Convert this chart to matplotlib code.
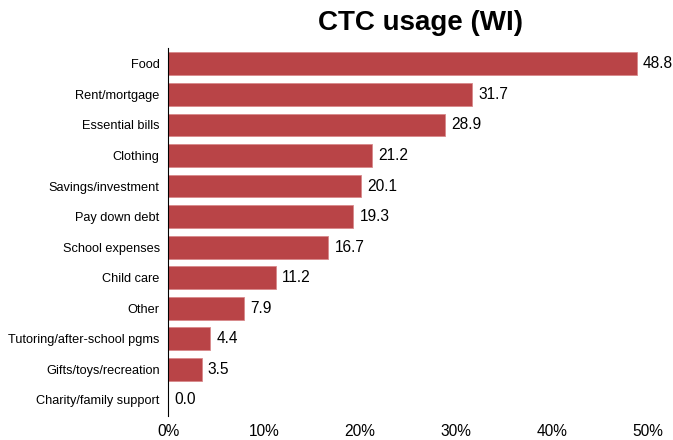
import matplotlib.pyplot as plt

categories = ["Food", "Rent/mortgage", "Essential bills", "Clothing",
              "Savings/investment", "Pay down debt", "School expenses",
              "Child care", "Other", "Tutoring/after-school pgms",
              "Gifts/toys/recreation", "Charity/family support"]
values = [48.8, 31.7, 28.9, 21.2, 20.1, 19.3, 16.7, 11.2, 7.9, 4.4, 3.5, 0.0]
xticks = [0, 10, 20, 30, 40, 50]

fig = plt.figure(figsize=(6.73, 4.40), dpi=100)
ax = fig.add_axes([168 / 673, 24 / 440, 505 / 673, 368 / 440])

pos = list(range(len(categories)))
ax.barh(pos, values, height=0.75, color="#B94447", edgecolor="#D8898B", linewidth=0.6)
for p, v in zip(pos, values):
    ax.text(v + 0.65, p, f"{v:.1f}", va="center", ha="left", fontsize=11.2,
            family=["Liberation Sans", "DejaVu Sans"])

ax.set_ylim(len(categories) - 0.47, -0.52)
ax.set_xlim(0, 52.6)
ax.set_yticks(pos)
ax.set_yticklabels(categories, family=["Liberation Sans", "DejaVu Sans"], fontsize=9.2)
ax.set_xticks(xticks)
ax.set_xticklabels([f"{t}%" for t in xticks], family=["Liberation Sans", "DejaVu Sans"], fontsize=11.2)
ax.tick_params(axis="both", length=0)
ax.tick_params(axis="y", pad=6)
ax.tick_params(axis="x", pad=5.5)
for s in ["top", "right", "bottom"]:
    ax.spines[s].set_visible(False)
ax.spines["left"].set_color("black")
ax.spines["left"].set_linewidth(0.8)

fig.text(421 / 673, 1 - 23 / 440, "CTC usage (WI)", ha="center", va="center",
         fontsize=20, fontweight="bold", family=["Liberation Sans", "DejaVu Sans"])

fig.savefig("out.png", dpi=100)
